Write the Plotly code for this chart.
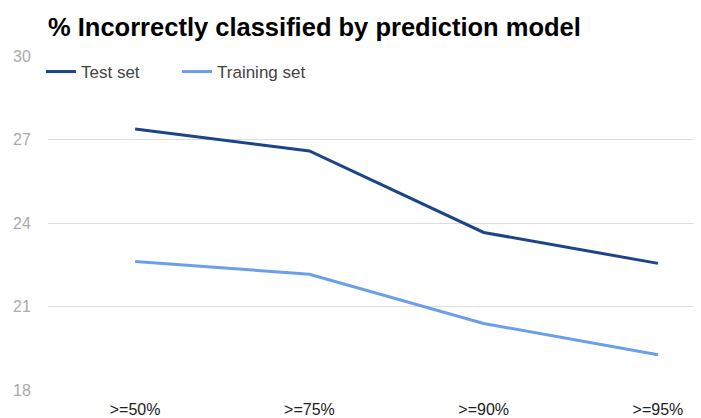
import plotly.graph_objects as go

categories = [">=50%", ">=75%", ">=90%", ">=95%"]
test_set = [27.38, 26.59, 23.66, 22.55]
training_set = [22.62, 22.16, 20.39, 19.27]
y_ticks = [18, 21, 24, 27, 30]

fig = go.Figure()
fig.add_trace(go.Scatter(x=categories, y=test_set, mode="lines", name="Test set",
                         line=dict(color="#1c4587", width=3)))
fig.add_trace(go.Scatter(x=categories, y=training_set, mode="lines", name="Training set",
                         line=dict(color="#6d9eeb", width=3)))

fig.update_layout(
    width=693, height=410,
    margin=dict(l=40, r=0, t=48, b=26),
    paper_bgcolor="white", plot_bgcolor="white",
    font=dict(family="Liberation Sans, Arial, sans-serif"),
    title=dict(text="<b>% Incorrectly classified by prediction model</b>",
               x=0, xref="paper", xanchor="left", yref="container", y=0.9537, yanchor="middle",
               font=dict(size=25.5, color="#000000")),
    showlegend=True,
    legend=dict(orientation="h", x=-0.0107, y=1.006, xanchor="left", yanchor="top",
                font=dict(size=17, color="#444444"), bgcolor="rgba(0,0,0,0)",
                entrywidth=91, entrywidthmode="pixels", tracegroupgap=0),
    xaxis=dict(type="category", range=[-0.5, 3.247], showgrid=False, showline=False,
               zeroline=False, ticks="outside", ticklen=5, tickcolor="rgba(0,0,0,0)",
               tickfont=dict(size=16, color="#222222")),
    yaxis=dict(range=[18, 30], tickvals=y_ticks, showgrid=True, gridcolor="#dddddd",
               gridwidth=1, zeroline=False, showline=False, ticks="outside", ticklen=13,
               tickcolor="rgba(0,0,0,0)",
               tickfont=dict(size=16, color="#aaaaaa")),
)

fig.write_html("out.html")
